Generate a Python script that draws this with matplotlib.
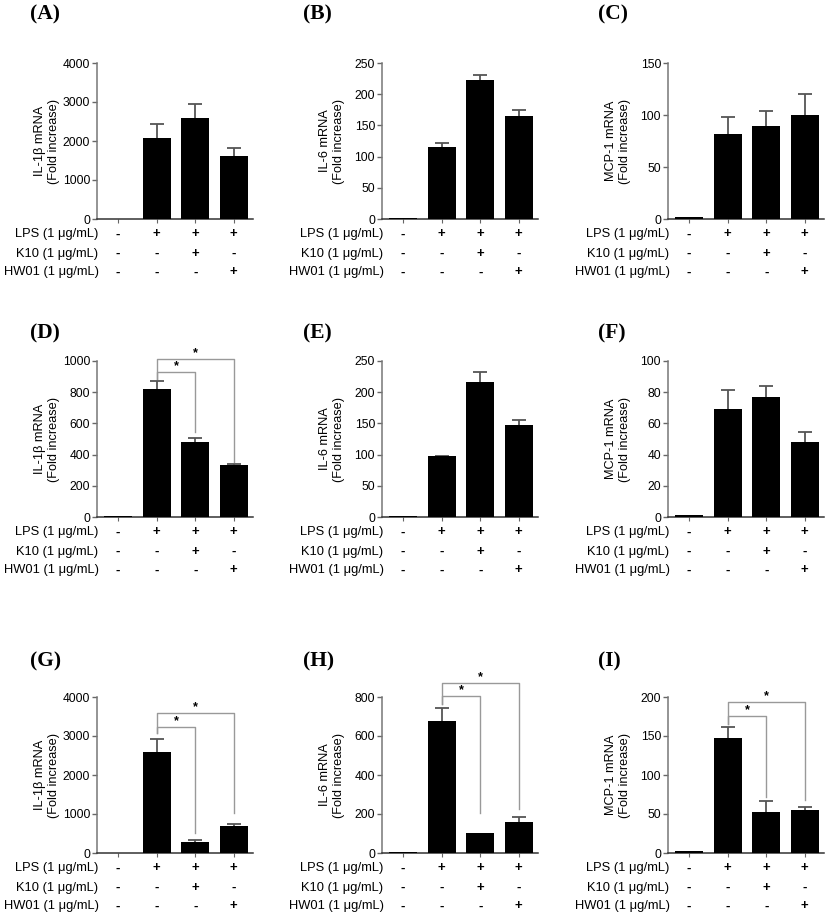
import matplotlib
matplotlib.use('Agg')
import matplotlib.pyplot as plt
import numpy as np

plt.rcParams['font.family'] = ['Liberation Sans', 'DejaVu Sans']

# data: 4 groups per panel (control, LPS, LPS+K10, LPS+HW01)
panel_letters = ['A', 'B', 'C', 'D', 'E', 'F', 'G', 'H', 'I']
gene_labels = ['IL-1\u03b2 mRNA\n(Fold increase)', 'IL-6 mRNA\n(Fold increase)',
               'MCP-1 mRNA\n(Fold increase)']

means_A = [1, 2070, 2580, 1625];  err_A = [0, 370, 370, 190]
means_B = [2, 116, 222, 165];     err_B = [0, 6, 8, 9]
means_C = [1.5, 82, 89, 100];     err_C = [0, 16, 15, 20]
means_D = [5, 819, 479, 331];     err_D = [0, 50, 29, 11]
means_E = [1.5, 97, 217, 148];    err_E = [0, 1.5, 16, 8]
means_F = [1.5, 69, 77, 48];      err_F = [0, 12.7, 7, 6.5]
means_G = [1, 2595, 274, 692];    err_G = [0, 328, 60, 52]
means_H = [3, 676, 104, 157];     err_H = [0, 67, 0, 30]
means_I = [2, 148, 53, 54.5];     err_I = [0, 13, 13.5, 4.2]

yticks_A = [0, 1000, 2000, 3000, 4000]
yticks_B = [0, 50, 100, 150, 200, 250]
yticks_C = [0, 50, 100, 150]
yticks_D = [0, 200, 400, 600, 800, 1000]
yticks_E = [0, 50, 100, 150, 200, 250]
yticks_F = [0, 20, 40, 60, 80, 100]
yticks_G = [0, 1000, 2000, 3000, 4000]
yticks_H = [0, 200, 400, 600, 800]
yticks_I = [0, 50, 100, 150, 200]

# significance brackets: (left leg start, [(target group, level, right leg end), ...])
sig_D = (884, [(2, 929, 542), (3, 1013, 355)])
sig_G = (3077, [(2, 3238, 513), (3, 3597, 1026)])
sig_H = (764, [(2, 806, 207), (3, 873, 228)])
sig_I = (166, [(2, 176, 72), (3, 194, 67.5)])

treat_names = ['LPS (1 \u03bcg/mL)', 'K10 (1 \u03bcg/mL)', 'HW01 (1 \u03bcg/mL)']
lps_signs = ['-', '+', '+', '+']
k10_signs = ['-', '-', '+', '-']
hw01_signs = ['-', '-', '-', '+']

means = [means_A, means_B, means_C, means_D, means_E, means_F, means_G, means_H, means_I]
errs = [err_A, err_B, err_C, err_D, err_E, err_F, err_G, err_H, err_I]
yticks = [yticks_A, yticks_B, yticks_C, yticks_D, yticks_E, yticks_F, yticks_G, yticks_H, yticks_I]
sigs = {3: sig_D, 6: sig_G, 7: sig_H, 8: sig_I}
signs = [lps_signs, k10_signs, hw01_signs]

W, H = 827, 917
fig = plt.figure(figsize=(W / 100, H / 100), dpi=100)

col_left = [97, 382, 668]
row_bottom = [219, 517, 853]
label_x = [30, 303, 598]
label_y = [14, 333, 661]
axw, axh = 156, 156
row_off = [15.5, 34.5, 53.5]

x = np.arange(4)
for k in range(9):
    r, c = divmod(k, 3)
    ax = fig.add_axes([col_left[c] / W, 1 - row_bottom[r] / H, axw / W, axh / H])
    m = np.array(means[k], dtype=float)
    e = np.array(errs[k], dtype=float)
    ax.bar(x, m, width=0.73, color='black', zorder=3)
    ok = e > 0
    ax.vlines(x[ok], m[ok], m[ok] + e[ok], color='#555555', lw=1.3, zorder=2)
    ax.hlines(m[ok] + e[ok], x[ok] - 0.18, x[ok] + 0.18, color='#555555', lw=1.3, zorder=2)

    ax.set_xlim(-0.55, 3.5)
    ax.set_ylim(0, yticks[k][-1])
    ax.set_yticks(yticks[k])
    ax.set_xticks(x)
    ax.set_xticklabels([])
    ax.tick_params(axis='y', labelsize=8.7, length=3.5, width=1, color='#666666', pad=1.5)
    ax.tick_params(axis='x', length=3, width=0.8, color='#666666')
    for s in ['top', 'right']:
        ax.spines[s].set_visible(False)
    ax.spines['left'].set_color('#777777')
    ax.spines['left'].set_linewidth(1.1)
    ax.spines['bottom'].set_color('#333333')
    ax.spines['bottom'].set_linewidth(1.1)

    ax.text(-50 / axw, 0.5, gene_labels[c], rotation=90, ha='center', va='center',
            multialignment='center', fontsize=9.2, linespacing=1.3,
            transform=ax.transAxes)

    # treatment table
    tr = ax.get_xaxis_transform()
    for j in range(3):
        yy = -row_off[j] / axh
        ax.text(0.01, yy, treat_names[j], ha='right', va='center', fontsize=9.3,
                transform=ax.transAxes)
        for i in range(4):
            ax.text(x[i], yy, signs[j][i], ha='center', va='center', fontsize=9.5,
                    fontweight='bold', transform=tr)

    if k in sigs:
        left_start, brackets = sigs[k]
        for tgt, level, right_end in brackets:
            ax.plot([1, 1, tgt, tgt], [left_start, level, level, right_end],
                    color='#999999', lw=1, clip_on=False, zorder=1)
            ax.text((1 + tgt) / 2, level, '*', ha='center', va='bottom', fontsize=9,
                    fontweight='bold', clip_on=False)

    fig.text(label_x[c] / W, 1 - label_y[r] / H, '(' + panel_letters[k] + ')',
             family='Liberation Serif', fontweight='bold', fontsize=15.5,
             ha='left', va='center')

fig.savefig('out.png', dpi=100)
